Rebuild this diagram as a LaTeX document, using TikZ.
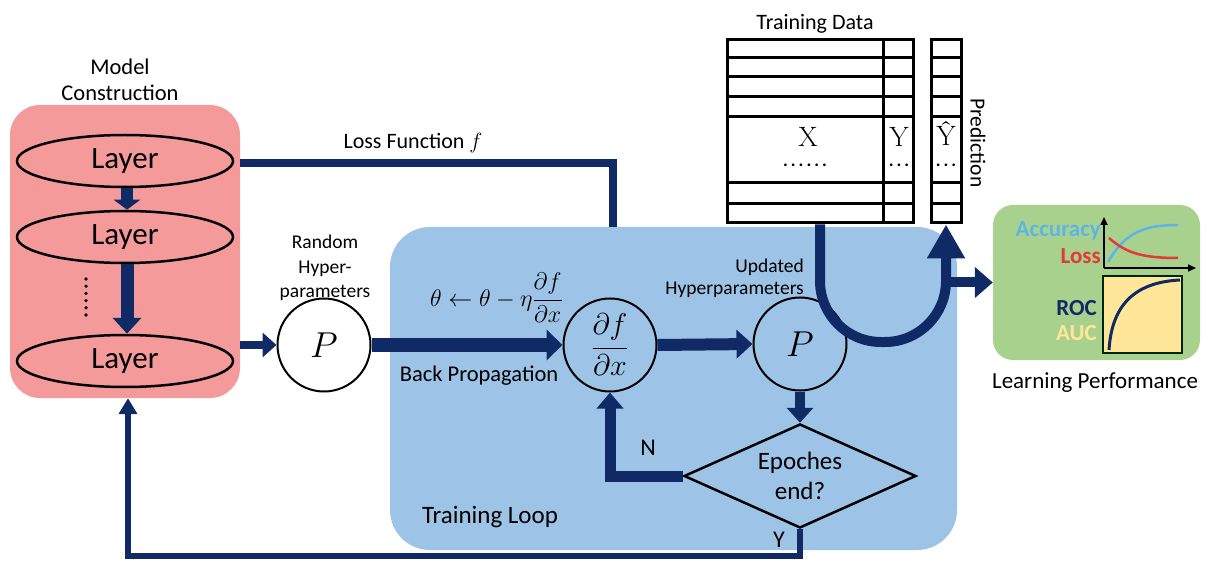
\documentclass[tikz,border=0pt]{standalone}
\usepackage{fix-cm}
\usepackage[no-math]{fontspec}
\setmainfont{Carlito}
\newfontfamily\lmrfont{Latin Modern Roman}
\usetikzlibrary{arrows.meta,shapes.geometric}
\definecolor{navy}{HTML}{102A66}
\definecolor{pinkbox}{HTML}{F59A9A}
\definecolor{bluebox}{HTML}{9DC3E6}
\definecolor{greenbox}{HTML}{A9D18E}
\definecolor{aucy}{HTML}{FFE699}
\definecolor{accblue}{HTML}{5BB5E5}
\definecolor{lossred}{HTML}{E53935}
\tikzset{
  txt/.style={font=\fontsize{22}{26}\selectfont, align=center, inner sep=0pt},
  cell/.style={inner sep=0pt, outer sep=0pt, font=\lmrfont\fontsize{28}{30}\selectfont},
  celldots/.style={inner sep=0pt, outer sep=0pt, anchor=base, font=\bfseries\fontsize{18}{19}\selectfont},
  layer/.style={ellipse, draw=black, line width=2.5pt, minimum width=216pt, minimum height=52pt, font=\fontsize{31}{33}\selectfont, inner sep=0pt},
  pcirc/.style={circle, draw=black, line width=2pt, minimum size=93pt, inner sep=0pt},
  conn/.style={draw=navy, line width=8pt},
  tabline/.style={draw=black, line width=3pt},
  perftxt/.style={font=\bfseries\fontsize{23}{26}\selectfont, inner sep=0pt, anchor=east},
}
\begin{document}
\begin{tikzpicture}[x=1pt,y=-1pt]
\useasboundingbox (0,0) rectangle (1208,564);
% background boxes
\node[rectangle, rounded corners=30pt, fill=pinkbox, minimum width=230pt, minimum height=293pt, inner sep=0pt] (model) at (125,251.5) {};
\node[rectangle, rounded corners=40pt, fill=bluebox, minimum width=567pt, minimum height=323pt, inner sep=0pt] (loop) at (673.5,388.5) {};
\node[rectangle, rounded corners=20pt, fill=greenbox, minimum width=207pt, minimum height=155pt, inner sep=0pt] (perf) at (1096.5,282.5) {};
% titles
\node[txt, font=\fontsize{22.5}{26}\selectfont] (mtitle) at (120,80) {Model\\Construction};
% layers
\node[layer] (L1) at (125,161) {Layer};
\node[layer] (L2) at (125,237) {Layer};
\node[layer] (L3) at (125,361) {Layer};
\foreach \i in {0,...,5} \fill (86,{279+7.2*\i}) circle (1.8pt);
\draw[conn, line width=12pt, -{Triangle[width=26pt,length=10pt]}] (L1.south -| 127,0) -- (L2.north -| 127,0);
\draw[conn, line width=13pt, -{Triangle[width=28pt,length=16pt]}] (L2.south -| 127,0) -- (L3.north -| 127,0);
% loss function line
\coordinate (lossend) at (613,227);
\draw[conn, line join=miter] (model.east |- 0,163) -| (lossend);
\node[txt] (losslbl) at (413,143) {Loss Function $f$};
% random hyperparameters
\node[txt, font=\fontsize{19.5}{24.5}\selectfont] (rhp) at (325,268) {Random\\Hyper-\\parameters};
\node[pcirc, fill=white] (P1) at (324,345) {\fontsize{36}{40}\selectfont$P$};
\draw[conn, -{Triangle[width=24pt,length=14pt]}] (model.east |- P1) -- (P1.west);
% training loop content
\node[pcirc] (dfdx) at (610,345) {\fontsize{30}{34}\selectfont$\displaystyle\frac{\partial f}{\partial x}$};
\node[pcirc] (P2) at (800,344) {\fontsize{36}{40}\selectfont$P$};
\node[diamond, draw=black, line width=2.5pt, aspect=2.23, minimum width=232pt, minimum height=104pt, inner sep=0pt, font=\fontsize{25}{30}\selectfont, align=center] (dec) at (800,476) {Epoches\\end?};
\draw[conn, line width=14pt, -{Triangle[width=30pt,length=16pt]}] (P1.east) -- (dfdx.west);
\draw[conn, line width=12pt, -{Triangle[width=28pt,length=16pt]}] (dfdx.east) -- (P2.west);
\draw[conn, line width=10pt, -{Triangle[width=26pt,length=15pt]}] (P2.south) -- (dec.north);
\draw[conn, line width=11pt, line join=miter, -{Triangle[width=26pt,length=16pt]}] (dec.west) -| (dfdx.south);
\node[txt, font=\fontsize{24}{26}\selectfont] (Nlbl) at (648,448) {N};
\node[txt, font=\fontsize{24}{26}\selectfont] (Ylbl) at (779,540) {Y};
\node[txt, font=\fontsize{25}{28}\selectfont] (tloop) at (490,517) {Training Loop};
\node[txt, anchor=east, font=\fontsize{24}{28}\selectfont] (rule) at (563,298) {$\displaystyle \theta \leftarrow \theta - \eta\frac{\partial f}{\partial x}$};
\node[txt, font=\fontsize{22.5}{26}\selectfont] (bp) at (479,376) {Back Propagation};
\node[txt, font=\fontsize{19.5}{22}\selectfont, align=right, anchor=east] (uhp) at (804,278) {Updated\\Hyperparameters};
% return path
\coordinate (retcorner) at (128,556);
\draw[conn, line width=6pt, line join=miter, -{Triangle[width=18pt,length=16pt]}] (dec.south) |- (retcorner) -- (model.south -| retcorner);
% training data table
\node[draw=black, line width=3pt, minimum width=186pt, minimum height=183pt, inner sep=0pt] (tab) at (820,131.5) {};
\node[draw=black, line width=3pt, minimum width=30pt, minimum height=183pt, inner sep=0pt] (pred) at (946,131.5) {};
\foreach \yy in {58,77,97,117,183,204} {
  \draw[tabline] (tab.west |- 0,\yy) -- (tab.east |- 0,\yy);
  \draw[tabline] (pred.west |- 0,\yy) -- (pred.east |- 0,\yy);
}
\draw[tabline] (883,40) -- (883,223);
\node[txt] (tdlbl) at (815,24) {Training Data};
\node[cell] (Xl) at (808,137) {X};
\node[celldots] (Xd) at (805,167) {.\,.\,.\,.\,.\,.};
\node[cell] (Yl) at (899,137) {Y};
\node[celldots] (Yd) at (899,167) {.\,.\,.};
\node[cell] (Yh) at (946,133) {Ŷ};
\node[celldots] (Yhd) at (946,167) {.\,.\,.};
\node[txt, rotate=-90, font=\fontsize{21.5}{24}\selectfont] (predlbl) at (978,143) {Prediction};
% U arrow
\draw[conn, line width=10pt, rounded corners=61pt, -{Triangle[width=36pt,length=34pt]}] (tab.south) -- (tab.south |- 0,342) -| (pred.south);
\draw[conn, line width=10pt, -{Triangle[width=30pt,length=18pt]}] (pred.south |- perf.west) -- (perf.west);
% performance
\node[perftxt, text=accblue] (acc) at (1101,231) {Accuracy};
\node[perftxt, text=lossred] (loss) at (1101,256) {Loss};
\draw[line width=1.6pt, -{Triangle[width=7pt,length=8pt]}] (1104,268) -- (1104,217);
\draw[line width=1.6pt, -{Triangle[width=7pt,length=8pt]}] (1104,268) -- (1196,268);
\draw[accblue, line width=2.5pt] (1108,262) .. controls (1125,232) and (1145,225) .. (1178,225);
\draw[lossred, line width=2.5pt] (1109,238) .. controls (1125,252) and (1140,258) .. (1178,258);
\draw[fill=aucy, draw=black!85!green, line width=1.8pt] (1103,276) rectangle (1182,353);
\draw[navy, line width=3pt] (1109,350) .. controls (1112,300) and (1140,282) .. (1180,280);
\node[perftxt, text=navy] (roc) at (1097,308) {ROC};
\node[perftxt, text=aucy] (auc) at (1097,333) {AUC};
\node[txt, font=\fontsize{23}{26}\selectfont] (lp) at (1095,383) {Learning Performance};
\end{tikzpicture}
\end{document}
